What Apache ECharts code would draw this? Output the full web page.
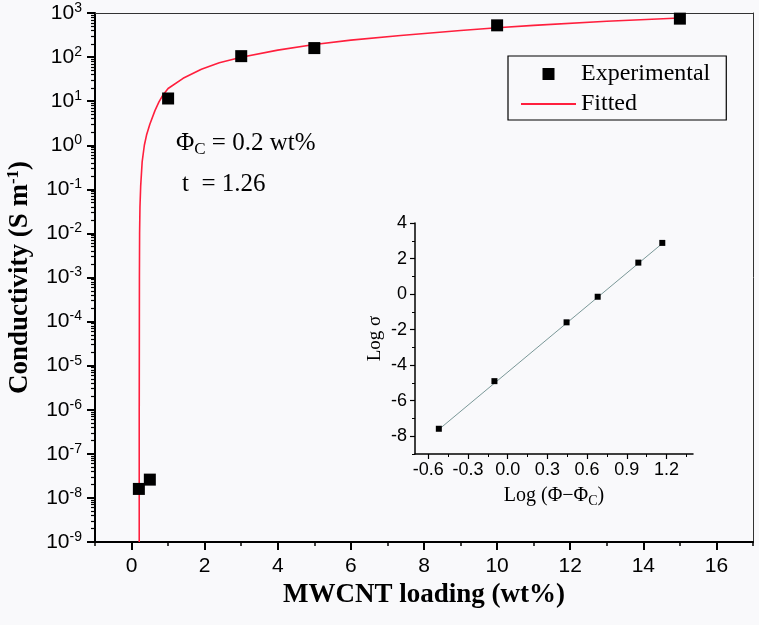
<!DOCTYPE html>
<html><head><meta charset="utf-8">
<script src="https://cdn.jsdelivr.net/npm/echarts@6/dist/echarts.min.js"></script>
<style>html,body{margin:0;padding:0;background:#f9f9fb}#c{width:759px;height:625px}</style>
</head><body><div id="c"></div>
<script>
// ---- main plot data ----
const loading = [0.2, 0.5, 1, 3, 5, 10, 15];
const conductivity = [1.6e-8, 2.6e-8, 11.5, 105, 160, 525, 745];
const fitLoading = [0.21, 0.21, 0.215, 0.22, 0.23, 0.25, 0.29, 0.35, 0.41, 0.5, 0.64, 0.75, 0.86, 1.0, 1.41, 1.91, 2.4, 3, 4, 5, 6, 7.36, 9, 10, 11, 13, 15];
const fitConductivity = [1e-9, 1e-6, 1e-3, 1e-2, 0.04, 0.12, 0.42, 1.0, 1.7, 3.0, 6.1, 9.6, 13.8, 19.4, 33, 53, 74, 99, 144, 193, 243, 310, 400, 463, 525, 650, 770];
const xTickLabels = [0, 2, 4, 6, 8, 10, 12, 14, 16];
const xMinorTicks = [-1, 1, 3, 5, 7, 9, 11, 13, 15, 17];
const yDecades = [-9, -8, -7, -6, -5, -4, -3, -2, -1, 0, 1, 2, 3];
// ---- inset data ----
const insetLogPhi = [-0.52, -0.10, 0.445, 0.68, 0.987, 1.168];
const insetLogSigma = [-7.58, -4.9, -1.59, -0.15, 1.77, 2.88];
const insetFitX = [-0.52, 1.17];
const insetFitY = [-7.62, 2.86];
const insetXTicks = [-0.6, -0.3, 0.0, 0.3, 0.6, 0.9, 1.2];
const insetXMinor = [-0.45, -0.15, 0.15, 0.45, 0.75, 1.05, 1.35];
const insetYTicks = [-8, -6, -4, -2, 0, 2, 4];
const insetYMinor = [-9, -7, -5, -3, -1, 1, 3];

const yMajorVals = yDecades.map(e => Math.pow(10, e));
const yMinorVals = [];
yDecades.slice(0, -1).forEach(e => { for (let k = 2; k <= 9; k++) yMinorVals.push(k * Math.pow(10, e)); });

const SANS = 'Liberation Sans, Arial, sans-serif';
const SERIF = 'Liberation Serif, Times New Roman, serif';
const RED = '#ff1f3d';

const chart = echarts.init(document.getElementById('c'), null, {renderer: 'canvas'});
const noSplit = {show: false};
const hiddenLabel = {show: false};

const option = {
  backgroundColor: '#f9f9fb',
  animation: false,
  grid: [
    {left: 95, right: 6, top: 13, bottom: 83, outerBoundsMode: 'none', containLabel: false},
    {left: 415, right: 66, top: 223, bottom: 171, outerBoundsMode: 'none', containLabel: false}
  ],
  legend: {
    orient: 'vertical', left: 508, top: 56,
    padding: [6, 16, 4, 13], itemGap: 6,
    itemWidth: 55, itemHeight: 12, symbolKeepAspect: true,
    borderColor: '#000', borderWidth: 1.2,
    textStyle: {fontFamily: SERIF, fontSize: 24, color: '#000'},
    data: [
      {name: 'Experimental', icon: 'path://M0,0L10,0L10,10L0,10Z', itemStyle: {color: '#000', opacity: 1}},
      {name: 'Fitted', icon: 'path://M0,0L55,0L55,1.8L0,1.8Z'}
    ]
  },
  xAxis: [
    { // main bottom, major ticks + labels
      type: 'value', gridIndex: 0, position: 'bottom', min: -1, max: 17,
      axisLine: {show: true, onZero: false, lineStyle: {color: '#000', width: 2}},
      axisTick: {show: true, inside: false, length: 8, lineStyle: {color: '#000', width: 2}, customValues: xTickLabels},
      axisLabel: {show: true, customValues: xTickLabels, margin: 14, color: '#000', fontFamily: SANS, fontSize: 21},
      splitLine: noSplit,
      name: 'MWCNT loading (wt%)', nameLocation: 'middle', nameGap: 35,
      nameTextStyle: {fontFamily: SERIF, fontWeight: 'bold', fontSize: 27, color: '#000'}
    },
    { // main bottom minor ticks
      type: 'value', gridIndex: 0, position: 'bottom', min: -1, max: 17,
      axisLine: {show: false, onZero: false},
      axisTick: {show: true, length: 4, lineStyle: {color: '#000', width: 1.5}, customValues: xMinorTicks},
      axisLabel: hiddenLabel, splitLine: noSplit
    },
    { // top frame
      type: 'value', gridIndex: 0, position: 'top', min: -1, max: 17,
      axisLine: {show: true, onZero: false, lineStyle: {color: '#333', width: 1}},
      axisTick: {show: false}, axisLabel: hiddenLabel, splitLine: noSplit
    },
    { // inset bottom major
      type: 'value', gridIndex: 1, position: 'bottom', min: -0.7, max: 1.4,
      axisLine: {show: true, onZero: false, lineStyle: {color: '#000', width: 1.5}},
      axisTick: {show: true, length: 5, lineStyle: {color: '#000', width: 1.2}, customValues: insetXTicks},
      axisLabel: {show: true, customValues: insetXTicks, margin: 7, color: '#000', fontFamily: SANS, fontSize: 18,
        formatter: v => v.toFixed(1)},
      splitLine: noSplit,
      name: '{a|Log (Φ\u2212Φ}{b|C}{a|)}', nameLocation: 'middle', nameGap: 30,
      nameTextStyle: {rich: {
        a: {fontFamily: SERIF, fontSize: 20, color: '#000', lineHeight: 24},
        b: {fontFamily: SERIF, fontSize: 14, color: '#000', lineHeight: 12, verticalAlign: 'bottom'}
      }}
    },
    { // inset bottom minor
      type: 'value', gridIndex: 1, position: 'bottom', min: -0.7, max: 1.4,
      axisLine: {show: false, onZero: false},
      axisTick: {show: true, length: 3, lineStyle: {color: '#000', width: 1}, customValues: insetXMinor},
      axisLabel: hiddenLabel, splitLine: noSplit
    }
  ],
  yAxis: [
    { // main left log axis, major
      type: 'log', logBase: 10, gridIndex: 0, position: 'left', min: 1e-9, max: 1e3,
      axisLine: {show: true, onZero: false, lineStyle: {color: '#000', width: 2}},
      axisTick: {show: true, length: 8, lineStyle: {color: '#000', width: 2}, customValues: yMajorVals},
      axisLabel: {show: true, customValues: yMajorVals, margin: 13,
        formatter: v => '{a|10}{b|' + Math.round(Math.log10(v)) + '}',
        rich: {
          a: {fontFamily: SANS, fontSize: 21, color: '#000', lineHeight: 24},
          b: {fontFamily: SANS, fontSize: 14, color: '#000', lineHeight: 14, verticalAlign: 'top'}
        }},
      splitLine: noSplit,
      name: '{n|Conductivity (S m}{s|-1}{n|)}', nameLocation: 'middle', nameGap: 60, nameRotate: 90,
      nameTextStyle: {rich: {
        n: {fontFamily: SERIF, fontWeight: 'bold', fontSize: 27, color: '#000', lineHeight: 30},
        s: {fontFamily: SERIF, fontWeight: 'bold', fontSize: 17, color: '#000', lineHeight: 18, verticalAlign: 'top'}
      }}
    },
    { // main left minor ticks
      type: 'log', logBase: 10, gridIndex: 0, position: 'left', min: 1e-9, max: 1e3,
      axisLine: {show: false, onZero: false},
      axisTick: {show: true, length: 4, lineStyle: {color: '#000', width: 1.2}, customValues: yMinorVals},
      axisLabel: hiddenLabel, splitLine: noSplit
    },
    { // right frame
      type: 'log', logBase: 10, gridIndex: 0, position: 'right', min: 1e-9, max: 1e3,
      axisLine: {show: true, onZero: false, lineStyle: {color: '#333', width: 1}},
      axisTick: {show: false}, axisLabel: hiddenLabel, splitLine: noSplit
    },
    { // inset left major
      type: 'value', gridIndex: 1, position: 'left', min: -9, max: 4,
      axisLine: {show: true, onZero: false, lineStyle: {color: '#000', width: 1.5}},
      axisTick: {show: true, length: 5, lineStyle: {color: '#000', width: 1.2}, customValues: insetYTicks},
      axisLabel: {show: true, customValues: insetYTicks, margin: 8, color: '#000', fontFamily: SANS, fontSize: 18},
      splitLine: noSplit,
      name: 'Log σ', nameLocation: 'middle', nameGap: 30, nameRotate: 90,
      nameTextStyle: {fontFamily: SERIF, fontSize: 19, color: '#000'}
    },
    { // inset left minor
      type: 'value', gridIndex: 1, position: 'left', min: -9, max: 4,
      axisLine: {show: false, onZero: false},
      axisTick: {show: true, length: 3, lineStyle: {color: '#000', width: 1}, customValues: insetYMinor},
      axisLabel: hiddenLabel, splitLine: noSplit
    }
  ],
  graphic: [
    {type: 'text', left: 176, top: 131, z: 10,
      style: {text: '{p|Φ}{s|C}{p| = 0.2 wt%}', rich: {
        p: {fontFamily: SERIF, fontSize: 25, fill: '#000', lineHeight: 30},
        s: {fontFamily: SERIF, fontSize: 17, fill: '#000', lineHeight: 14, verticalAlign: 'bottom'}
      }}},
    {type: 'text', left: 182, top: 172, z: 10,
      style: {text: 't  = 1.26', fontFamily: SERIF, fontSize: 25, fill: '#000'}}
  ],
  series: [
    {
      name: 'Fitted', type: 'line', xAxisIndex: 0, yAxisIndex: 0,
      data: fitLoading.map((x, i) => [x, fitConductivity[i]]),
      showSymbol: false, symbol: 'none', smooth: false,
      lineStyle: {color: RED, width: 1.6, opacity: 1}, itemStyle: {color: RED}, z: 2
    },
    {
      name: 'Experimental', type: 'scatter', xAxisIndex: 0, yAxisIndex: 0,
      data: loading.map((x, i) => [x, conductivity[i]]),
      symbol: 'rect', symbolSize: 12, itemStyle: {color: '#000', opacity: 1}, z: 3
    },
    {
      name: 'InsetFit', type: 'line', xAxisIndex: 3, yAxisIndex: 3,
      data: insetFitX.map((x, i) => [x, insetFitY[i]]),
      showSymbol: false, symbol: 'none',
      lineStyle: {color: '#7a9898', width: 1}, z: 2
    },
    {
      name: 'InsetData', type: 'scatter', xAxisIndex: 3, yAxisIndex: 3,
      data: insetLogPhi.map((x, i) => [x, insetLogSigma[i]]),
      symbol: 'rect', symbolSize: 6, itemStyle: {color: '#000', opacity: 1}, z: 3
    }
  ]
};
chart.setOption(option);
</script>
</body></html>
